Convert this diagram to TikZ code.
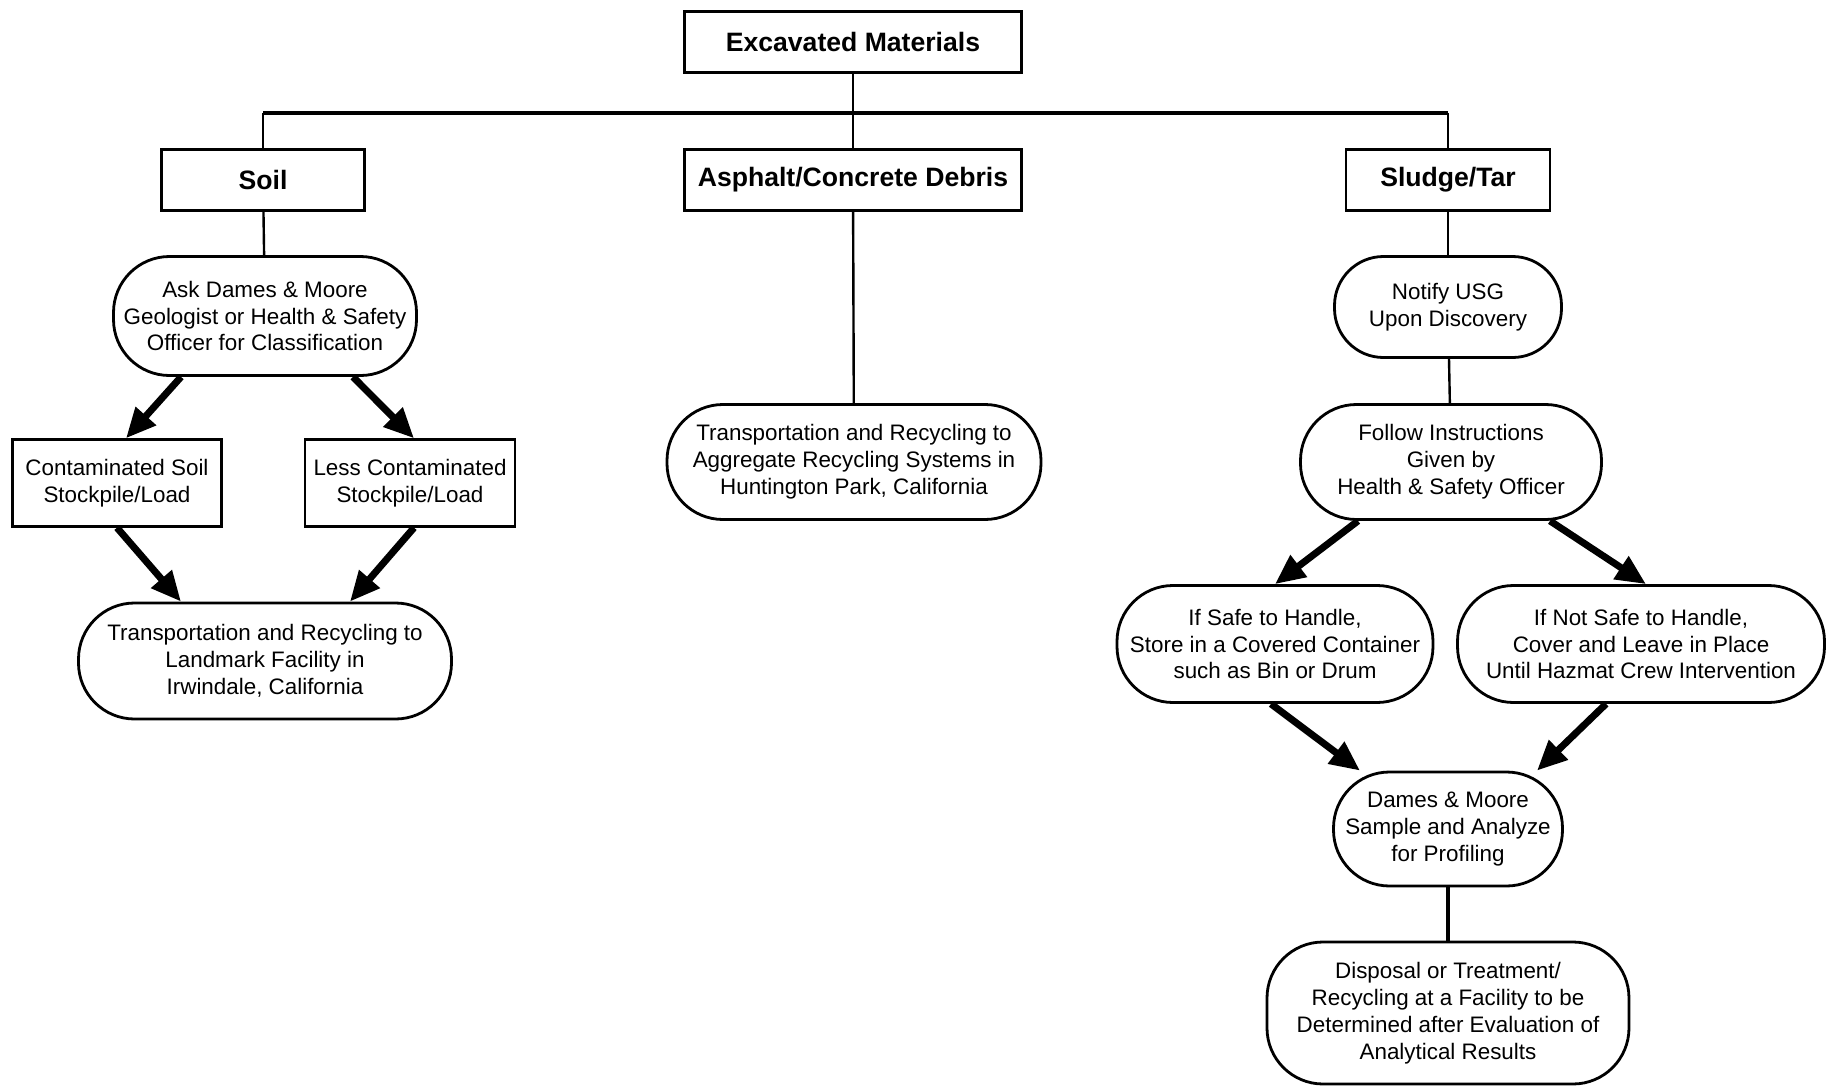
\documentclass[tikz,border=0pt]{standalone}
\usepackage{fontspec}
\setmainfont{Liberation Sans}
\usetikzlibrary{arrows.meta}

\begin{document}
\begin{tikzpicture}[x=0.5pt,y=-0.5pt,
		box/.style={draw,line width=1.2pt,align=center,inner sep=0pt,font=\fontsize{11.2}{13.4}\selectfont},
		head/.style={box,minimum height=30.5pt,font=\bfseries\fontsize{13.3}{16}\selectfont},
		roundbox/.style={box,line width=1.4pt,rounded corners=28pt},
		flow/.style={line width=3.5pt,-{Triangle[length=15pt,width=13pt]}},
		tree/.style={line width=1.2pt}]
		\useasboundingbox (0,0) rectangle (1828,1087);

		% top row
		\node[head,minimum width=168.5pt] (mat) at (853,42) {Excavated Materials};
		\node[head,minimum width=101.5pt] (soil) at (263,180) {Soil};
		\node[head,minimum width=168.5pt] (asph) at (853,180) {Asphalt/Concrete Debris};
		\node[head,minimum width=102pt] (sludge) at (1448,180) {Sludge/Tar};

		\coordinate (bus) at (853,113);
		\draw[tree] (mat) -- (bus);
		\draw[line width=2pt] (soil.north |- bus) -- (sludge.north |- bus);
		\draw[tree] (soil) -- (soil.north |- bus);
		\draw[tree] (asph) -- (bus);
		\draw[tree] (sludge) -- (sludge.north |- bus);

		% soil
		\node[roundbox,minimum width=151.5pt,minimum height=59.5pt] (ask) at (265,316) {Ask Dames \& Moore\\Geologist or Health \& Safety\\Officer for Classification};
		\node[box,minimum width=104.5pt,minimum height=43.5pt] (cont) at (117,483) {Contaminated Soil\\Stockpile/Load};
		\node[box,minimum width=105pt,minimum height=43.5pt] (less) at (410,483) {Less Contaminated\\Stockpile/Load};
		\node[roundbox,minimum width=186.5pt,minimum height=58pt] (land) at (265,661) {Transportation and Recycling to\\Landmark Facility in\\Irwindale, California};

		\draw[tree] (soil) -- (ask);
		\draw[flow] ([xshift=-42pt]ask.south) -- ([xshift=4.5pt]cont.north);
		\draw[flow] ([xshift=44pt]ask.south) -- ([xshift=2pt]less.north);
		\draw[flow] (cont.south) -- ([xshift=-42pt]land.north);
		\draw[flow] ([xshift=2pt]less.south) -- ([xshift=42.5pt]land.north);

		% asphalt
		\node[roundbox,minimum width=187pt,minimum height=57.5pt] (hunt) at (854,462) {Transportation and Recycling to\\Aggregate Recycling Systems in\\Huntington Park, California};
		\draw[tree] (asph) -- (hunt);

		% sludge
		\node[roundbox,rounded corners=24.5pt,minimum width=113.5pt,minimum height=50.5pt] (notify) at (1448,307) {Notify USG\\Upon Discovery};
		\node[roundbox,minimum width=150.5pt,minimum height=57.5pt] (follow) at (1451,462) {Follow Instructions\\Given by\\Health \& Safety Officer};
		\node[roundbox,minimum width=158pt,minimum height=58.5pt] (safe) at (1275,644) {If Safe to Handle,\\Store in a Covered Container\\such as Bin or Drum};
		\node[roundbox,minimum width=183.5pt,minimum height=58.5pt] (unsafe) at (1641,644) {If Not Safe to Handle,\\Cover and Leave in Place\\Until Hazmat Crew Intervention};
		\node[roundbox,minimum width=114.5pt,minimum height=57pt] (sample) at (1448,829) {Dames \& Moore\\Sample and Analyze\\for Profiling};
		\node[roundbox,minimum width=181pt,minimum height=71pt] (disp) at (1448,1013) {Disposal or Treatment/\\Recycling at a Facility to be\\Determined after Evaluation of\\Analytical Results};

		\draw[tree] (sludge) -- (notify);
		\draw[tree] (notify) -- (follow);
		\draw[flow] ([xshift=-46.5pt]follow.south) -- (safe.north);
		\draw[flow] ([xshift=49.5pt]follow.south) -- ([xshift=2.5pt]unsafe.north);
		\draw[flow] ([xshift=-2pt]safe.south) -- ([xshift=-44pt]sample.north);
		\draw[flow] ([xshift=-17.5pt]unsafe.south) -- ([xshift=44.5pt]sample.north);
		\draw[line width=2pt] (sample) -- (disp);
	\end{tikzpicture}
\end{document}
